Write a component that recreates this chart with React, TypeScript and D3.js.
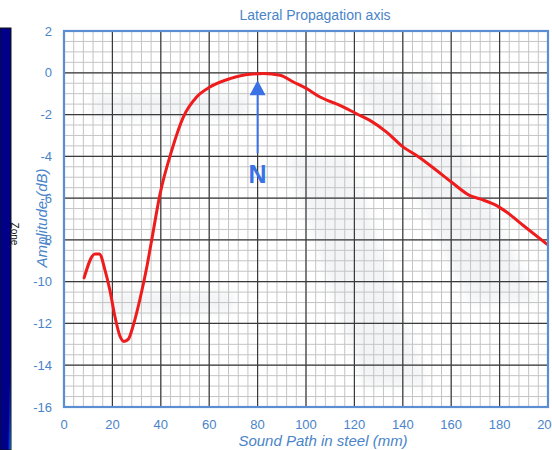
import React from "react";
import * as d3 from "d3";

const title = "Lateral Propagation axis";
const xTitle = "Sound Path in steel (mm)";
const yTitle = "Amplitude (dB)";
const xTicks = [0, 20, 40, 60, 80, 100, 120, 140, 160, 180, 200];
const yTicks = [2, 0, -2, -4, -6, -8, -10, -12, -14, -16];
const pathX = [8.3, 12.8, 14.6, 17, 19, 21.1, 23.1, 24.8, 26.6, 28.6, 31.4, 34.2, 36.2, 39.7, 44.5, 49.3, 54.8, 60.3, 68.6, 76.9, 82.4, 89.3, 94.8, 100.3, 105.8, 114, 120.9, 126.4, 133.3, 140.2, 145.7, 154, 160.2, 167.8, 171.9, 178.8, 183, 189.8, 199.5];
const amp = [-9.82, -8.67, -8.67, -9.47, -10.43, -11.7, -12.6, -12.86, -12.75, -12.1, -10.83, -9.31, -8.03, -5.8, -3.72, -2.12, -1.16, -0.68, -0.28, -0.07, -0.04, -0.12, -0.44, -0.76, -1.16, -1.56, -1.96, -2.28, -2.84, -3.56, -3.96, -4.68, -5.24, -5.88, -6.04, -6.36, -6.68, -7.31, -8.2];
const arrowX = 80;
const arrowTip = -0.36;
const arrowBase = -1.08;
const arrowTail = -3.86;
const nLabelY = -4.85;

export default function App() {
  const W = 552, H = 450;
  const x = d3.scaleLinear().domain([0, 200]).range([64, 548]);
  const y = d3.scaleLinear().domain([-16, 2]).range([407, 31]);
  const minorX = d3.range(0, 201, 4);
  const minorY = d3.range(-16, 2.01, 0.5);
  const majorX = d3.range(0, 201, 20);
  const majorY = d3.range(-16, 2.01, 2);
  const line = d3.line<number>().x((_, i) => x(pathX[i])).y((d) => y(d)).curve(d3.curveMonotoneX);
  const blue = "#4a84c8";
  const font = "'Liberation Sans', Arial, sans-serif";
  const [x0, x1] = x.range();
  const [y1, y0] = y.range();
  return (
    <svg width={W} height={H} style={{ position: "absolute", left: 0, top: 0, background: "#fff" }} fontFamily={font}>
      <defs>
        <linearGradient id="strip" x1="0" y1="0" x2="1" y2="1">
          <stop offset="0.85" stopColor="#000088" />
          <stop offset="0.93" stopColor="#0040e0" />
          <stop offset="1" stopColor="#20e0ff" />
        </linearGradient>
        <filter id="blur"><feGaussianBlur stdDeviation="5" /></filter>
        <clipPath id="plotClip"><rect x={x0} y={y0} width={x1 - x0} height={y1 - y0} /></clipPath>
      </defs>
      <rect x={0} y={28} width={11} height={H - 28} fill="url(#strip)" stroke="#111" strokeWidth={1} />
      <text transform="translate(14,234) rotate(90)" fontSize={10} fill="#111" textAnchor="middle" dominantBaseline="middle">Zone</text>
      <g clipPath="url(#plotClip)">
        <g filter="url(#blur)" fill="#cfd4dc" opacity={0.25}>
          <path d={`M${x(12)},${y(-1)} L${x(76)},${y(-1)} L${x(76)},${y(-2.2)} L${x(12)},${y(-2.2)} Z`} />
          <path d={`M${x(120)},${y(-0.2)} L${x(150)},${y(-0.2)} L${x(196)},${y(-11)} L${x(168)},${y(-11)} Z`} />
          <path d={`M${x(92)},${y(-4)} L${x(118)},${y(-4)} L${x(150)},${y(-15)} L${x(124)},${y(-15)} Z`} />
          <path d={`M${x(14)},${y(-10.5)} L${x(70)},${y(-10.5)} L${x(70)},${y(-11.5)} L${x(14)},${y(-11.5)} Z`} />
        </g>
        {minorX.map((v) => (
          <line key={"mx" + v} x1={x(v)} x2={x(v)} y1={y0} y2={y1} stroke="#c4c4c4" strokeWidth={1} />
        ))}
        {minorY.map((v) => (
          <line key={"my" + v} x1={x0} x2={x1} y1={y(v)} y2={y(v)} stroke="#c4c4c4" strokeWidth={1} />
        ))}
        {majorX.map((v) => (
          <line key={"Mx" + v} x1={x(v)} x2={x(v)} y1={y0} y2={y1} stroke="#3a3a3a" strokeWidth={1.2} />
        ))}
        {majorY.map((v) => (
          <line key={"My" + v} x1={x0} x2={x1} y1={y(v)} y2={y(v)} stroke="#3a3a3a" strokeWidth={1.2} />
        ))}
        <path d={line(amp) || ""} fill="none" stroke="#ee1c1c" strokeWidth={3} strokeLinejoin="round" strokeLinecap="round" />
      </g>
      <rect x={x0} y={y0} width={x1 - x0} height={y1 - y0} fill="none" stroke="#5b8dd3" strokeWidth={2.2} />
      <line x1={x(arrowX)} x2={x(arrowX)} y1={y(arrowBase)} y2={y(arrowTail)} stroke="#3a72e6" strokeWidth={2} />
      <path d={`M${x(arrowX)},${y(arrowTip)} L${x(arrowX) - 8},${y(arrowBase)} L${x(arrowX) + 8},${y(arrowBase)} Z`} fill="#3a72e6" />
      <text x={x(arrowX)} y={y(nLabelY)} fontSize={25} fontWeight="bold" fill="#3a72e6" textAnchor="middle" dominantBaseline="central">N</text>
      <text x={315} y={20} fontSize={14} fill={blue} textAnchor="middle">{title}</text>
      {xTicks.map((v) => (
        <text key={"xt" + v} x={x(v)} y={429} fontSize={13} fill={blue} textAnchor="middle">{v}</text>
      ))}
      {yTicks.map((v) => (
        <text key={"yt" + v} x={52} y={y(v)} fontSize={13} fill={blue} textAnchor="end" dominantBaseline="central">{v}</text>
      ))}
      <text x={323} y={446} fontSize={15} fontStyle="italic" fill={blue} textAnchor="middle">{xTitle}</text>
      <text transform="translate(47,218) rotate(-90)" fontSize={15} fontStyle="italic" fill={blue} textAnchor="middle">{yTitle}</text>
    </svg>
  );
}
